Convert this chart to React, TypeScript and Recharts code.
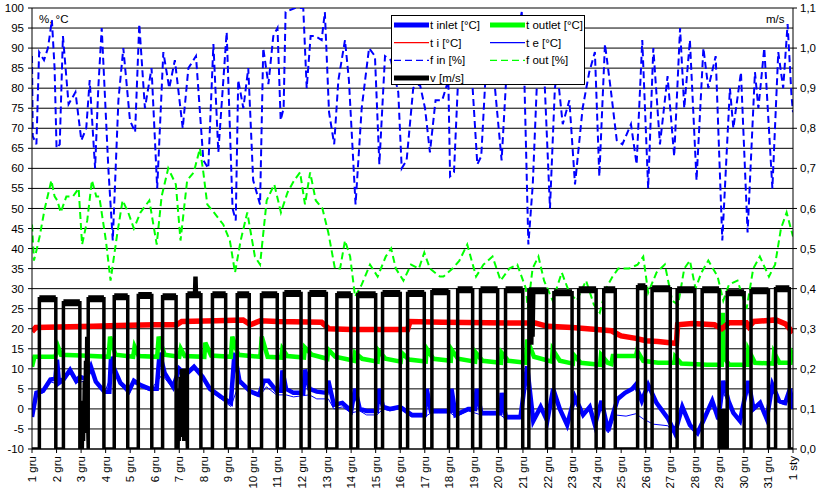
import React from 'react';
import { LineChart, Line, XAxis, YAxis, CartesianGrid, ReferenceLine } from 'recharts';

// -----------------------------------------------------------------------------
// DATA
// One point = [day since 1 gru 00:00, value].
// -----------------------------------------------------------------------------
type Pt = [number, number];

const dayLabels = [
  '1 gru', '2 gru', '3 gru', '4 gru', '5 gru', '6 gru', '7 gru', '8 gru', '9 gru', '10 gru',
  '11 gru', '12 gru', '13 gru', '14 gru', '15 gru', '16 gru', '17 gru', '18 gru', '19 gru', '20 gru',
  '21 gru', '22 gru', '23 gru', '24 gru', '25 gru', '26 gru', '27 gru', '28 gru', '29 gru', '30 gru',
  '31 gru', '1 sty',
];
const dayTicks = dayLabels.map((_, i) => i);
const leftTicks = [-10, -5, 0, 5, 10, 15, 20, 25, 30, 35, 40, 45, 50, 55, 60, 65, 70, 75, 80, 85, 90, 95, 100];
const rightTicks = [0, 0.1, 0.2, 0.3, 0.4, 0.5, 0.6, 0.7, 0.8, 0.9, 1.0, 1.1];

// t inlet [°C]
const tInlet: Pt[] = [
  [0, -2], [0.18, 4], [0.45, 4.5], [0.75, 7.3], [0.95, 7.5], [1.02, 12.3], [1.1, 6.5], [1.3, 7.5],
  [1.55, 9.7], [1.8, 7], [1.95, 8], [2.2, 7.5], [2.4, 10.5], [2.6, 6.8], [2.95, 4.3], [3.15, 4.3],
  [3.22, 13], [3.35, 10], [3.6, 6.5], [3.95, 4.5], [4.15, 7], [4.4, 6], [4.8, 5], [5.08, 5],
  [5.2, 14], [5.4, 9], [5.75, 5.5], [6.0, 10], [6.25, 8.5], [6.6, 10.5], [6.95, 8], [7.25, 5],
  [7.7, 3], [8.1, 1.5], [8.25, 14], [8.45, 7], [8.9, 4.3], [9.25, 3.5], [9.45, 7], [9.63, 7],
  [9.96, 4.5], [10.15, 4.5], [10.2, 9.6], [10.35, 5], [10.65, 4], [11.05, 4], [11.12, 9.8], [11.3, 5],
  [11.6, 4.3], [12.0, 4], [12.07, 7], [12.3, 1], [12.64, 1.5], [13.0, -0.5], [13.16, 5], [13.35, 0],
  [13.63, -0.5], [14.05, -0.5], [14.12, 5], [14.3, 0.5], [14.58, 0], [14.99, 0.5], [15.47, -1.5],
  [16.0, -1.5], [16.08, 5], [16.25, -0.5], [16.55, -0.5], [16.78, -0.5], [17.05, -0.5], [17.09, 5],
  [17.25, -1.5], [17.77, 0], [18.05, 0], [18.11, 5], [18.3, -1], [18.59, -1], [19.08, -1], [19.13, 4],
  [19.3, -2], [19.9, -2], [20.17, 10.6], [20.42, -3], [20.72, 0.5], [20.99, -3], [21.23, 5], [21.5, 0],
  [21.8, -4], [22.11, 3], [22.45, -1.5], [22.72, 0.5], [22.93, -4], [23.2, 2], [23.47, -5.5],
  [23.68, -1], [23.86, 2.5], [24.16, 4], [24.45, 5], [24.59, 6], [24.84, 2], [25.1, 6], [25.44, 1.5],
  [25.92, -2.5], [26.19, -6], [26.49, 0.5], [26.8, -4], [27.11, -6], [27.38, -2.5], [27.71, 2],
  [27.96, -2.5], [28.16, 7], [28.37, 2], [28.57, -1], [28.84, -3], [29.18, 7], [29.39, 0], [29.66, 1.5],
  [29.93, -2.5], [30.16, 6], [30.43, 2], [30.68, 1.5], [30.88, 5], [31, 0],
];

// t outlet [°C]
const tOutlet: Pt[] = [
  [0, 10.5], [0.1, 13], [0.95, 13], [1.06, 15.5], [1.18, 13.5], [2.0, 13.3], [3.12, 13], [3.18, 18],
  [3.4, 13.5], [4.12, 13], [4.18, 15.5], [4.35, 13.2], [5.1, 13], [5.16, 18], [5.4, 13.5], [6.0, 13],
  [6.06, 15], [6.22, 13.2], [7.02, 13], [7.06, 16.5], [7.3, 13.3], [8.1, 13], [8.16, 18], [8.4, 13.5],
  [9.3, 13], [9.36, 18], [9.6, 13], [10.15, 12.8], [10.2, 15], [10.4, 13.2], [11.08, 12.8],
  [11.12, 15.3], [11.4, 13.5], [12.03, 12.5], [12.07, 14.8], [12.35, 13], [13.12, 12], [13.16, 14],
  [13.45, 12.5], [14.08, 11.8], [14.12, 14.5], [14.4, 12.5], [15.02, 11.8], [15.06, 14], [15.35, 12.3],
  [16.04, 11.8], [16.08, 15], [16.35, 12.5], [17.06, 12], [17.09, 14.8], [17.35, 12.5], [18.05, 11.8],
  [18.08, 14], [18.35, 12], [19.1, 11.5], [19.13, 14], [19.4, 12], [20.12, 11.5], [20.17, 17.3],
  [20.45, 13], [21.18, 11.8], [21.21, 14.8], [21.5, 12], [22.03, 11.3], [22.06, 13.5], [22.35, 11.5],
  [23.14, 11], [23.18, 13.5], [23.45, 11.5], [23.6, 11.2], [23.66, 13.2], [24.6, 13.2], [24.65, 14.5],
  [24.9, 12], [25.5, 11.5], [26.17, 11.5], [26.2, 13], [26.45, 11.3], [27.5, 11], [28.1, 11],
  [28.14, 24], [28.18, 13], [28.4, 11], [29.15, 11], [29.18, 14.8], [29.45, 11.5], [30.2, 11.3],
  [30.23, 14], [30.45, 11.5], [30.9, 11.5], [30.95, 14], [31, 13.5],
];

// t i [°C]
const tI: Pt[] = [
  [0, 19.3], [0.15, 20.3], [2.5, 20.6], [3.5, 20.8], [5.0, 21.0], [5.9, 21.0], [6.1, 21.8],
  [7.5, 22.0], [8.6, 22.2], [8.9, 21.0], [9.3, 22.0], [10.0, 21.8], [11.8, 21.6], [12.1, 20.0],
  [13.0, 19.8], [14.0, 19.8], [15.3, 19.8], [15.4, 21.8], [16.7, 21.6], [20.5, 21.4], [21.0, 20.6],
  [22.0, 20.3], [23.0, 19.8], [23.6, 19.5], [23.9, 18.5], [24.0, 18.2], [24.6, 17.6], [25.0, 17.0],
  [25.5, 16.8], [26.25, 16.3], [26.3, 21.0], [26.9, 21.3], [27.8, 21.0], [28.1, 20.0], [28.4, 21.5],
  [29.1, 21.5], [29.2, 20.5], [29.4, 21.8], [30.3, 22.2], [30.7, 21.2], [31, 19],
];

// t e [°C]
const tE: Pt[] = [
  [0, -2], [0.18, 3.5], [0.45, 4], [0.75, 6.8], [1.1, 6], [1.3, 7], [1.55, 9], [1.8, 6.5], [2.2, 7],
  [2.4, 10], [2.6, 6.5], [2.95, 4], [3.3, 9.5], [3.6, 6], [3.95, 3.5], [4.15, 6.5], [4.4, 5.5],
  [4.8, 4.5], [5.3, 8.5], [5.75, 5], [6.0, 9.5], [6.25, 8], [6.6, 10], [6.95, 7.5], [7.25, 4.5],
  [7.7, 2.5], [8.1, 0.6], [8.45, 6.5], [8.9, 4], [9.25, 3], [9.55, 5.5], [9.96, 3.5], [10.35, 3.5],
  [10.65, 3], [11.3, 3.5], [11.6, 2.5], [12.07, 2.5], [12.3, 0], [12.64, 0.5], [13.0, -1],
  [13.35, -0.5], [13.63, -1.5], [14.05, -1.5], [14.3, 0], [14.58, -0.5], [14.99, 0], [15.47, -2],
  [16.0, -2], [16.25, -1], [16.55, -1], [17.05, -1], [17.25, -2], [17.77, -0.5], [18.3, -1.5],
  [18.59, -1.5], [19.08, -1.5], [19.3, -2.5], [19.9, -2.5], [20.17, 8], [20.42, -3.5], [20.72, 0],
  [20.99, -3.5], [21.23, 3], [21.5, -0.5], [21.8, -4.5], [22.11, 1.5], [22.45, -2], [22.72, 0],
  [22.93, -4.5], [23.2, 1], [23.47, -6], [23.75, -1.5], [24.2, -1.8], [24.6, -1.2], [24.9, -2.5],
  [25.3, -3.8], [25.9, -4.2], [26.19, -6.5], [26.49, 0], [26.8, -4.5], [27.11, -6.5], [27.38, -3],
  [27.71, 1.5], [27.96, -3], [28.16, 4], [28.37, 1.5], [28.57, -1.5], [28.84, -3.5], [29.18, 5],
  [29.39, -0.5], [29.66, 1], [29.93, -3], [30.16, 4.5], [30.43, 1.5], [30.68, 1], [30.88, 3], [31, 0.5],
];

// f in [%]
const fIn: Pt[] = [
  [0, 88], [0.03, 68], [0.18, 66], [0.29, 89], [0.49, 87], [0.65, 90], [0.81, 97], [0.92, 85],
  [1.0, 65], [1.13, 66], [1.26, 93], [1.49, 76], [1.77, 79], [2.01, 67], [2.21, 70], [2.35, 82],
  [2.57, 60], [2.7, 80], [2.84, 95], [3.11, 60], [3.29, 42], [3.52, 77], [3.72, 90], [3.99, 72],
  [4.2, 69], [4.37, 96], [4.6, 75], [4.87, 85], [5.1, 55], [5.35, 89], [5.59, 80], [5.82, 87],
  [6.14, 70], [6.37, 85], [6.68, 88], [6.98, 62], [7.18, 60], [7.39, 91], [7.59, 64], [7.93, 94],
  [8.17, 50], [8.3, 47], [8.4, 82], [8.61, 75], [8.81, 85], [9.01, 57], [9.29, 51], [9.42, 90],
  [9.63, 81], [9.83, 93], [10.0, 95], [10.13, 72], [10.25, 75], [10.33, 99], [10.71, 100],
  [11.05, 100], [11.19, 80], [11.35, 93], [11.53, 93], [11.8, 92], [11.93, 99], [12.1, 74],
  [12.31, 66], [12.48, 82], [12.75, 92], [12.91, 82], [13.18, 51], [13.43, 75], [13.73, 90],
  [13.97, 88], [14.15, 61], [14.38, 88], [14.62, 87], [14.92, 79], [15.06, 60], [15.26, 62],
  [15.53, 80], [15.8, 81], [16.01, 75], [16.21, 64], [16.44, 77], [16.71, 77], [16.96, 82],
  [17.03, 58], [17.19, 59], [17.4, 88], [17.64, 86], [17.9, 85], [18.14, 61], [18.3, 63], [18.52, 88],
  [18.8, 84], [19.13, 62], [19.35, 86], [19.61, 88], [19.95, 99], [20.05, 84], [20.22, 41],
  [20.4, 56], [20.56, 80], [20.85, 86], [21.1, 50], [21.3, 80], [21.4, 84], [21.62, 71], [21.89, 77],
  [22.12, 56], [22.43, 75], [22.7, 84], [22.93, 89], [23.11, 58], [23.34, 91], [23.57, 80],
  [23.82, 67], [24.05, 66], [24.4, 71], [24.63, 61], [24.86, 92], [25.1, 55], [25.31, 90],
  [25.58, 66], [25.89, 83], [26.16, 63], [26.4, 95], [26.57, 75], [26.8, 92], [27.07, 57],
  [27.35, 90], [27.55, 80], [27.85, 88], [28.12, 42], [28.43, 80], [28.57, 70], [28.88, 84],
  [29.15, 44], [29.45, 84], [29.59, 75], [29.83, 90], [30.16, 55], [30.4, 89], [30.6, 80],
  [30.78, 96], [30.94, 78], [31, 74],
];

// f out [%]
const fOut: Pt[] = [
  [0, 46], [0.08, 37], [0.2, 40], [0.31, 43], [0.52, 50], [0.79, 57], [0.92, 53], [1.03, 52],
  [1.17, 49], [1.4, 53], [1.67, 53], [1.9, 55], [2.04, 41], [2.25, 47], [2.44, 57], [2.62, 53],
  [2.74, 53], [3.01, 42], [3.2, 32], [3.48, 44], [3.69, 52], [3.92, 49], [4.15, 45], [4.42, 49],
  [4.78, 52], [5.08, 41], [5.28, 53], [5.55, 60], [5.86, 56], [6.05, 42], [6.32, 57], [6.59, 59],
  [6.84, 65], [6.98, 59], [7.14, 51], [7.41, 49], [7.79, 46], [8.06, 42], [8.27, 34], [8.5, 42],
  [8.77, 49], [9.08, 38], [9.29, 36], [9.56, 52], [9.87, 56], [10.14, 49], [10.41, 54], [10.68, 57],
  [10.92, 59], [11.12, 51], [11.33, 59], [11.56, 52], [11.83, 50], [12.07, 44], [12.34, 35],
  [12.55, 35], [12.75, 42], [12.96, 38], [13.16, 28], [13.43, 31], [13.77, 36], [14.08, 33],
  [14.41, 38], [14.63, 40], [14.82, 35], [15.13, 32], [15.44, 36], [15.76, 35], [15.98, 39],
  [16.21, 35], [16.62, 33], [16.76, 33], [17.13, 35], [17.41, 37], [17.73, 41], [18.09, 33],
  [18.39, 36], [18.76, 38], [19.09, 32], [19.44, 35], [19.77, 36], [20.12, 30], [20.2, 25],
  [20.39, 35], [20.63, 38], [20.86, 32], [21.21, 27], [21.58, 34], [21.89, 29], [22.19, 27],
  [22.57, 32], [22.89, 26], [23.13, 24], [23.38, 30], [23.65, 33], [23.88, 35], [24.32, 35],
  [24.67, 36], [24.9, 38], [25.1, 29], [25.44, 34], [25.78, 36], [26.08, 27], [26.32, 26],
  [26.57, 35], [26.8, 37], [27.03, 30], [27.27, 34], [27.55, 37], [27.93, 33], [28.16, 27],
  [28.39, 31], [28.74, 32], [29.11, 25], [29.38, 35], [29.65, 38], [30.02, 33], [30.27, 36],
  [30.51, 45], [30.74, 49], [31, 43],
];

// v [m/s]: fan on / off times for each day, and the level while running
const vOn = [
  0.3, 1.28, 2.29, 3.35, 4.33, 5.32, 6.33, 7.35, 8.36, 9.35, 10.28, 11.3, 12.42, 13.27, 14.28, 15.3,
  16.29, 17.34, 18.27, 19.29, 20.24, 21.26, 22.27, 23.29, 24.67, 25.26, 26.28, 27.3, 28.32, 29.29, 30.29,
];
const vOff = [
  0.97, 1.95, 2.93, 3.9, 4.88, 5.87, 6.88, 7.89, 8.85, 9.99, 10.96, 11.99, 12.99, 14.0, 15.0, 15.98,
  16.97, 17.95, 18.97, 19.99, 20.96, 22.0, 22.98, 23.76, 24.99, 26.0, 27.0, 27.99, 29.01, 30.0, 30.85,
];
const vLevel = [
  0.375, 0.365, 0.375, 0.38, 0.383, 0.38, 0.385, 0.385, 0.385, 0.385, 0.388, 0.388, 0.385, 0.385,
  0.388, 0.388, 0.392, 0.397, 0.397, 0.397, 0.395, 0.39, 0.397, 0.397, 0.405, 0.4, 0.397, 0.397,
  0.39, 0.395, 0.4,
];
// rapid oscillations while the fan is nominally off
const vBursts: Pt[] = [
  [2.0, 0], [2.03, 0.06], [2.05, 0], [2.08, 0.12], [2.1, 0.02], [2.13, 0.17], [2.15, 0.04],
  [2.18, 0.22], [2.2, 0.08], [2.23, 0.28], [2.25, 0.12],
  [5.95, 0], [5.98, 0.15], [6.0, 0.02], [6.03, 0.18], [6.06, 0.03], [6.09, 0.2], [6.12, 0.05],
  [6.15, 0.17], [6.18, 0.02], [6.21, 0.2], [6.24, 0.05], [6.27, 0.15],
  [28.02, 0], [28.05, 0.1], [28.07, 0], [28.1, 0.1], [28.12, 0], [28.15, 0.1], [28.17, 0],
  [28.2, 0.09], [28.22, 0], [28.25, 0.1], [28.27, 0],
];
// short dips / spikes while the fan is running
const vDips: Pt[] = [
  [6.62, 0.385], [6.64, 0.43], [6.66, 0.385], [6.68, 0.43], [6.7, 0.385],
  [20.34, 0.395], [20.36, 0.26], [20.38, 0.39], [20.41, 0.28], [20.44, 0.395],
];

// -----------------------------------------------------------------------------
// HELPERS
// -----------------------------------------------------------------------------
const toRows = (pts: Pt[]) => pts.map(([d, v]) => ({ d, v }));

const buildVelocity = (): Pt[] => {
  const pts: Pt[] = [[0, 0]];
  vOn.forEach((on, i) => {
    const prevOff = i === 0 ? 0 : vOff[i - 1];
    vBursts.filter(([d]) => d > prevOff && d < on).forEach((p) => pts.push(p));
    pts.push([on, 0], [on, vLevel[i]]);
    vDips.filter(([d]) => d > on && d < vOff[i]).forEach((p) => pts.push(p));
    pts.push([vOff[i], vLevel[i]], [vOff[i], 0]);
  });
  pts.push([31, 0]);
  return pts;
};

// Plateau-only rows (broken between days) to give the running level its noisy thickness
const buildPlateaus = () => {
  const rows: { d: number; v: number | null }[] = [];
  vOn.forEach((on, i) => {
    rows.push({ d: on, v: vLevel[i] }, { d: vOff[i], v: vLevel[i] });
    if (i < vOn.length - 1) rows.push({ d: (vOff[i] + vOn[i + 1]) / 2, v: null });
  });
  return rows;
};

const FONT = '"Liberation Sans", Arial, sans-serif';
const BLUE = '#0000FF';
const GREEN = '#00FF00';
const RED = '#FF0000';

const DayTick = (props: any) => {
  const { x, y, payload } = props;
  return (
    <text
      x={x + 4}
      y={y + 1}
      transform={`rotate(-90, ${x + 4}, ${y + 1})`}
      textAnchor="end"
      fontSize={11.5}
      fill="#000"
      fontFamily={FONT}
    >
      {dayLabels[payload.value]}
    </text>
  );
};

// Legend entries, laid out in two columns like the spreadsheet legend
const legendItems = [
  { label: 't inlet [°C]', color: BLUE, w: 5, dash: '', col: 0, row: 0 },
  { label: 't outlet [°C]', color: GREEN, w: 5, dash: '', col: 1, row: 0 },
  { label: 't i [°C]', color: RED, w: 1.2, dash: '', col: 0, row: 1 },
  { label: 't e [°C]', color: BLUE, w: 1.2, dash: '', col: 1, row: 1 },
  { label: 'f in [%]', color: BLUE, w: 1.4, dash: '7 4', col: 0, row: 2 },
  { label: 'f out [%]', color: GREEN, w: 1.4, dash: '7 4', col: 1, row: 2 },
  { label: 'v [m/s]', color: '#000', w: 5, dash: '', col: 0, row: 3 },
];

const ChartLegend = () => (
  <svg
    width={194}
    height={70}
    style={{ position: 'absolute', left: 391, top: 15 }}
  >
    <rect x={0.5} y={0.5} width={193} height={69} fill="#fff" stroke="#000" />
    {legendItems.map((it) => {
      const x0 = it.col === 0 ? 3 : 99;
      const y0 = 10 + it.row * 17.7;
      return (
        <g key={it.label}>
          <line x1={x0} x2={x0 + 35} y1={y0} y2={y0} stroke={it.color} strokeWidth={it.w} strokeDasharray={it.dash || undefined} />
          <text x={x0 + 36} y={y0 + 4} fontSize={11.5} fontFamily={FONT} fill="#000">
            {it.label}
          </text>
        </g>
      );
    })}
  </svg>
);

// -----------------------------------------------------------------------------
// MAIN COMPONENT
// -----------------------------------------------------------------------------
const App: React.FC = () => {
  const velocity = toRows(buildVelocity());
  const plateaus = buildPlateaus();

  return (
    <div style={{ position: 'absolute', left: 0, top: 0, width: 821, height: 500, background: '#fff', fontFamily: FONT }}>
      <LineChart width={821} height={500} margin={{ top: 8, right: 4, bottom: 5, left: 4 }}>
        <CartesianGrid yAxisId="left" horizontal vertical={false} stroke="#000" strokeWidth={1} />
        <XAxis
          type="number"
          dataKey="d"
          domain={[0, 31]}
          ticks={dayTicks}
          interval={0}
          allowDataOverflow
          height={46}
          tickSize={4}
          stroke="#000"
          tick={(p: any) => <DayTick {...p} />}
        />
        <YAxis
          yAxisId="left"
          domain={[-10, 100]}
          ticks={leftTicks}
          interval={0}
          allowDataOverflow
          width={28}
          tickSize={4}
          tickMargin={4}
          stroke="#000"
          tick={{ fontSize: 11.5, fill: '#000' }}
        />
        <YAxis
          yAxisId="right"
          orientation="right"
          domain={[0, 1.1]}
          ticks={rightTicks}
          interval={0}
          allowDataOverflow
          width={24}
          tickSize={4}
          tickMargin={3}
          stroke="#000"
          tick={{ fontSize: 11.5, fill: '#000', textAnchor: 'start' }}
          tickFormatter={(v: number) => v.toFixed(1).replace('.', ',')}
        />
        <ReferenceLine yAxisId="left" y={100} stroke="#808080" strokeWidth={1.5} />
        <Line yAxisId="left" data={toRows(tInlet)} dataKey="v" type="linear" stroke={BLUE} strokeWidth={4.5} dot={false} isAnimationActive={false} />
        <Line yAxisId="left" data={toRows(tOutlet)} dataKey="v" type="linear" stroke={GREEN} strokeWidth={4.5} dot={false} isAnimationActive={false} />
        <Line yAxisId="left" data={toRows(tI)} dataKey="v" type="linear" stroke={RED} strokeWidth={5.5} dot={false} isAnimationActive={false} />
        <Line yAxisId="left" data={toRows(tE)} dataKey="v" type="linear" stroke={BLUE} strokeWidth={1} dot={false} isAnimationActive={false} />
        <Line yAxisId="left" data={toRows(fIn)} dataKey="v" type="linear" stroke={BLUE} strokeWidth={2} strokeDasharray="7 4" dot={false} isAnimationActive={false} />
        <Line yAxisId="left" data={toRows(fOut)} dataKey="v" type="linear" stroke={GREEN} strokeWidth={2} strokeDasharray="7 4" dot={false} isAnimationActive={false} />
        <Line yAxisId="right" data={velocity} dataKey="v" type="linear" stroke="#000" strokeWidth={3.5} dot={false} isAnimationActive={false} />
        <Line yAxisId="right" data={plateaus} dataKey="v" type="linear" stroke="#000" strokeWidth={7} dot={false} connectNulls={false} isAnimationActive={false} />
      </LineChart>
      <div style={{ position: 'absolute', left: 39, top: 13, fontSize: 11.5, lineHeight: '13px' }}>%, °C</div>
      <div style={{ position: 'absolute', left: 766, top: 13, fontSize: 11.5, lineHeight: '13px' }}>m/s</div>
      <ChartLegend />
    </div>
  );
};

export default App;
